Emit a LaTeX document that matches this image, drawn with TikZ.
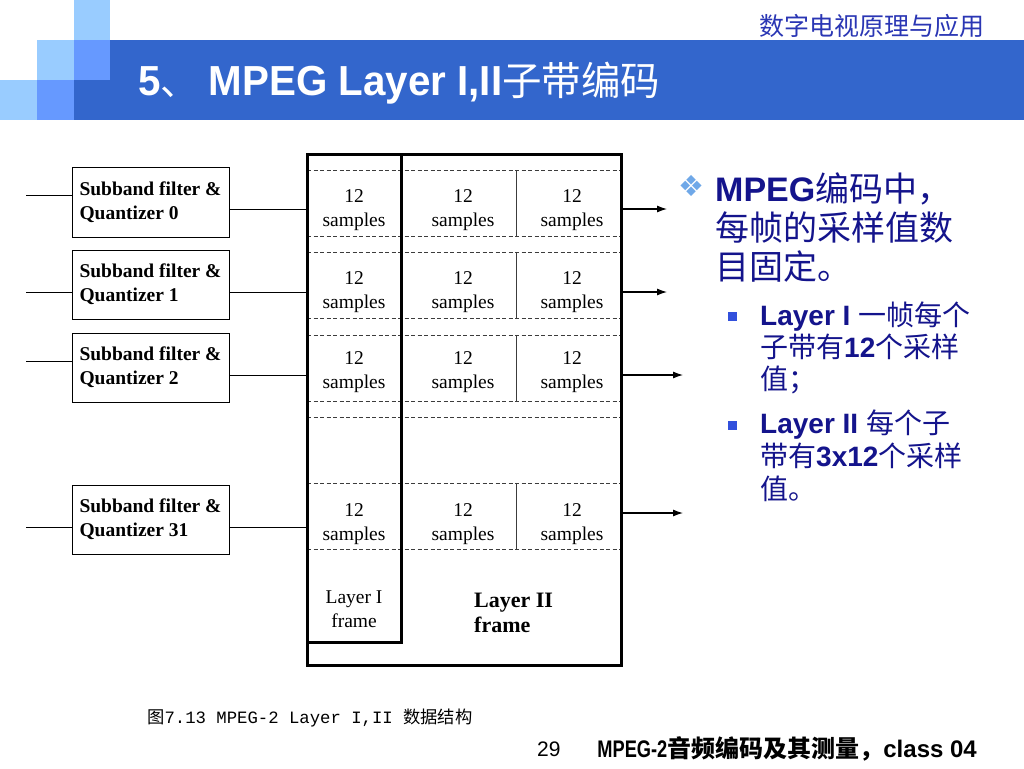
\documentclass[tikz,border=0pt]{standalone}
\usepackage{fontspec}
\setmainfont{Liberation Serif}
\newfontfamily\arialf{Liberation Sans}
\newfontfamily\titlef[FakeStretch=0.96]{Liberation Sans}
\newfontfamily\narrowf[FakeStretch=0.76]{Liberation Sans}
\newfontfamily\cjkf{Noto Sans CJK SC}
\newfontfamily\monof{Liberation Mono}
\newfontfamily\symf{DejaVu Sans}
\usetikzlibrary{arrows.meta}
\definecolor{lightb}{HTML}{99CCFF}
\definecolor{midb}{HTML}{6699FF}
\definecolor{darkb}{HTML}{3366CC}
\definecolor{navytxt}{RGB}{20,20,140}
\definecolor{toptxt}{RGB}{42,54,180}
\definecolor{bulletc}{HTML}{6FA8E8}
\definecolor{sqc}{RGB}{50,80,220}
\definecolor{dashc}{RGB}{60,60,60}
\newcommand{\myfs}[2]{\fontsize{#1}{#2}\selectfont}
\tikzset{
  sbox/.style={draw, line width=0.9pt, fill=white, minimum width=157pt,
    inner xsep=7pt, inner ysep=0pt, align=left,
    font={\myfs{19.5}{24}\bfseries}},
  conn/.style={line width=1pt},
  outarr/.style={line width=1.1pt, -{Latex[length=10pt,width=7pt]}},
  dline/.style={dashc, line width=0.9pt, dash pattern=on 4pt off 2.5pt},
  divl/.style={dashc, line width=0.9pt},
  cell/.style={align=center, font={\myfs{19.5}{24}}, inner sep=0pt},
  frm/.style={draw, line width=3pt, inner sep=0pt, outer sep=0pt},
  rtxt/.style={anchor=base west, inner sep=0pt, text=navytxt},
  sq/.style={fill=sqc, minimum size=9pt, inner sep=0pt}
}
\begin{document}
\begin{tikzpicture}[x=1pt,y=-1pt]
\useasboundingbox[fill=white] (0,0) rectangle (1024,768);
% header blocks
\fill[lightb] (74,0) rectangle (110,40);
\fill[lightb] (37,40) rectangle (74,80);
\fill[midb] (74,40) rectangle (110,80);
\fill[lightb] (0,80) rectangle (37,120);
\fill[midb] (37,80) rectangle (74,120);
\fill[darkb] (110,40) rectangle (1024,80);
\fill[darkb] (74,80) rectangle (1024,120);
\node[anchor=base west, inner sep=0pt, text=white, font={\myfs{41}{41}}] (title) at (138,95)
  {{\titlef\bfseries\myfs{42}{42}5}{\cjkf\myfs{38}{38}、} {\titlef\bfseries\myfs{42}{42}MPEG Layer I,II}{\cjkf\myfs{39.5}{39.5}子带编码}};
\node[anchor=base east, inner sep=0pt, text=toptxt, font={\myfs{25}{25}\cjkf}] (course) at (985,36)
  {数字电视原理与应用};

% frame contents
\foreach \y in {170,236,252,318,335,401,417,483,549}
  \draw[dline] (307,\y) -- (621,\y);
\foreach \a/\b in {170/236,252/318,335/401,483/549}
  \draw[divl] (516,\a) -- (516,\b);
\node[frm, minimum width=314pt, minimum height=511pt, anchor=north west] (frame) at (307,154) {};
\node[frm, minimum width=94pt, minimum height=488pt, anchor=north west] (layer1) at (307,154) {};

\foreach \r/\y in {1/210.5,2/292,3/372.5,4/524}{
  \node[cell] (c\r a) at (354,\y) {12\\samples};
  \node[cell] (c\r b) at (463,\y) {12\\samples};
  \node[cell] (c\r c) at (572,\y) {12\\samples};
}
\node[cell] (l1txt) at (354,609.5) {Layer I\\frame};
\node[align=left, inner sep=0pt, anchor=west, font={\myfs{22}{25}\bfseries}] (l2txt) at (474,613) {Layer II\\frame};

% subband boxes
\node[sbox, minimum height=70pt] (b0) at (150.5,202) {Subband filter \&\\Quantizer 0};
\node[sbox, minimum height=69pt] (b1) at (150.5,284.5) {Subband filter \&\\Quantizer 1};
\node[sbox, minimum height=69pt] (b2) at (150.5,367.5) {Subband filter \&\\Quantizer 2};
\node[sbox, minimum height=69pt] (b31) at (150.5,519.5) {Subband filter \&\\Quantizer 31};

\coordinate (in0) at (26,195);  \coordinate (out0) at (300,209);
\coordinate (in1) at (26,292);  \coordinate (out1) at (300,292);
\coordinate (in2) at (26,361);  \coordinate (out2) at (300,375);
\coordinate (in31) at (26,527); \coordinate (out31) at (300,527);
\foreach \n in {0,1,2,31}{
  \draw[conn] (in\n) -- (in\n -| b\n.west);
  \draw[conn] (b\n.east |- out\n) -- (out\n -| frame.west);
}
\coordinate (a0) at (667,209);
\coordinate (a1) at (667,292);
\coordinate (a2) at (683,375);
\coordinate (a3) at (683,513);
\foreach \n in {0,1,2,3}
  \draw[outarr] (frame.east |- a\n) -- (a\n);

% right text
\node[inner sep=0pt, text=bulletc, font={\myfs{29}{29}\symf}] (dia) at (691,186) {❖};
\node[rtxt, font={\myfs{34}{34}}] (m1) at (715,201) {{\arialf\bfseries MPEG}{\cjkf 编码中，}};
\node[rtxt, font={\myfs{34}{34}\cjkf}] (m2) at (715,240) {每帧的采样值数};
\node[rtxt, font={\myfs{34}{34}\cjkf}] (m3) at (715,279) {目固定。};
\node[sq] (sq1) at (732.5,316.5) {};
\node[rtxt, font={\myfs{28}{28}}] (s1a) at (760,325) {{\arialf\bfseries Layer I }{\cjkf 一帧每个}};
\node[rtxt, font={\myfs{28}{28}}] (s1b) at (760,357) {{\cjkf 子带有}{\arialf\bfseries 12}{\cjkf 个采样}};
\node[rtxt, font={\myfs{28}{28}\cjkf}] (s1c) at (760,389) {值；};
\node[sq] (sq2) at (732.5,425.5) {};
\node[rtxt, font={\myfs{28}{28}}] (s2a) at (760,433) {{\arialf\bfseries Layer II }{\cjkf 每个子}};
\node[rtxt, font={\myfs{28}{28}}] (s2b) at (760,466) {{\cjkf 带有}{\arialf\bfseries 3x12}{\cjkf 个采样}};
\node[rtxt, font={\myfs{28}{28}\cjkf}] (s2c) at (760,499) {值。};

% caption and footer
\node[anchor=base west, inner sep=0pt, font={\myfs{17.3}{17.3}}] (cap) at (147,723)
  {{\cjkf 图}{\monof 7.13 MPEG-2 Layer I,II }{\cjkf 数据结构}};
\node[anchor=base west, inner sep=0pt, font={\myfs{21}{21}\arialf}] (pnum) at (537,756) {29};
\node[anchor=base east, inner sep=0pt, font={\myfs{24}{24}}] (foot) at (977,757)
  {{\narrowf\bfseries MPEG-2}{\cjkf\bfseries 音频编码及其测量，}{\arialf\bfseries class 04}};
\end{tikzpicture}
\end{document}
